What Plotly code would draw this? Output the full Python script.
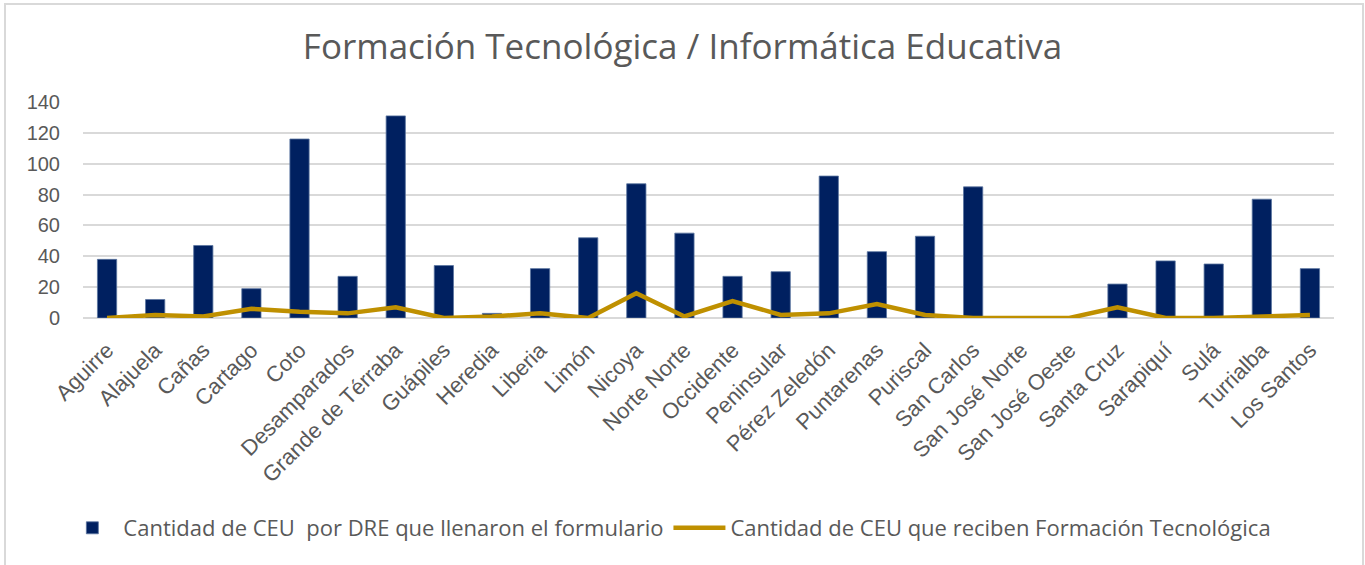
import plotly.graph_objects as go

# Direcciones Regionales de Educación (DRE)
regiones = [
    "Aguirre", "Alajuela", "Cañas", "Cartago", "Coto", "Desamparados",
    "Grande de Térraba", "Guápiles", "Heredia", "Liberia", "Limón", "Nicoya",
    "Norte Norte", "Occidente", "Peninsular", "Pérez Zeledón", "Puntarenas",
    "Puriscal", "San Carlos", "San José Norte", "San José Oeste", "Santa Cruz",
    "Sarapiquí", "Sulá", "Turrialba", "Los Santos",
]

# CEU por DRE que llenaron el formulario
ceu_formulario = [38, 12, 47, 19, 116, 27, 131, 34, 3, 32, 52, 87,
                  55, 27, 30, 92, 43, 53, 85, 0, 0, 22, 37, 35, 77, 32]

# CEU que reciben Formación Tecnológica
ceu_formacion = [0, 2, 1, 6, 4, 3, 7, 0, 1, 3, 0, 16,
                 1, 11, 2, 3, 9, 2, 0, 0, 0, 7, 0, 0, 1, 2]

nombre_barras = "Cantidad de CEU  por DRE que llenaron el formulario"
nombre_linea = "Cantidad de CEU que reciben Formación Tecnológica"
y_ticks = [0, 20, 40, 60, 80, 100, 120, 140]

GRIS_TEXTO = "#595959"
GRIS_REJILLA = "#d9d9d9"

fig = go.Figure()
fig.add_trace(go.Bar(
    x=regiones, y=ceu_formulario, name=nombre_barras,
    marker=dict(color="#002060", line=dict(color="#5b75a0", width=0.8)),
))
fig.add_trace(go.Scatter(
    x=regiones, y=ceu_formacion, name=nombre_linea, mode="lines",
    line=dict(color="#bf9000", width=4.5),
))

# plot area: 83..1334 px horizontally, 102..318 px vertically
L, R, T, B = 83, 31, 102, 247
W, H = 1365 - L - R, 565 - T - B

fig.update_layout(
    width=1365, height=565,
    margin=dict(l=L, r=R, t=T, b=B),
    paper_bgcolor="white", plot_bgcolor="white",
    bargap=0.6,
    font=dict(family="Liberation Sans, Arial, sans-serif", color=GRIS_TEXTO),
    title=dict(
        text="Formación Tecnológica / Informática Educativa",
        x=0.5, xref="container", xanchor="center",
        y=1 - 47 / 565, yref="container", yanchor="middle",
        font=dict(family="Open Sans, sans-serif", size=35, color=GRIS_TEXTO),
    ),
    xaxis=dict(
        tickangle=-45, tickfont=dict(size=22, color=GRIS_TEXTO),
        showline=False, showgrid=False, ticks="",
        ticklabelstandoff=14,
    ),
    yaxis=dict(
        range=[0, 140], tickvals=y_ticks,
        tickfont=dict(size=20, color=GRIS_TEXTO),
        showgrid=True, gridcolor=GRIS_REJILLA, gridwidth=1.5,
        zeroline=True, zerolinecolor=GRIS_REJILLA, zerolinewidth=1.5,
        showline=False, ticks="", ticklabelstandoff=22,
    ),
    legend=dict(
        orientation="h", x=0.49, xref="container", xanchor="center",
        y=1 - 528 / 565, yref="container", yanchor="middle",
        font=dict(family="Open Sans, sans-serif", size=22, color=GRIS_TEXTO),
        itemwidth=52,
    ),
    shapes=[dict(
        type="rect", xref="paper", yref="paper",
        x0=(5 - L) / W, x1=(1363 - L) / W,
        y0=(T + H - 580) / H, y1=(T + H - 4) / H,
        line=dict(color=GRIS_REJILLA, width=2), fillcolor="rgba(0,0,0,0)",
        layer="below",
    )],
)

fig.write_html("out.html")
